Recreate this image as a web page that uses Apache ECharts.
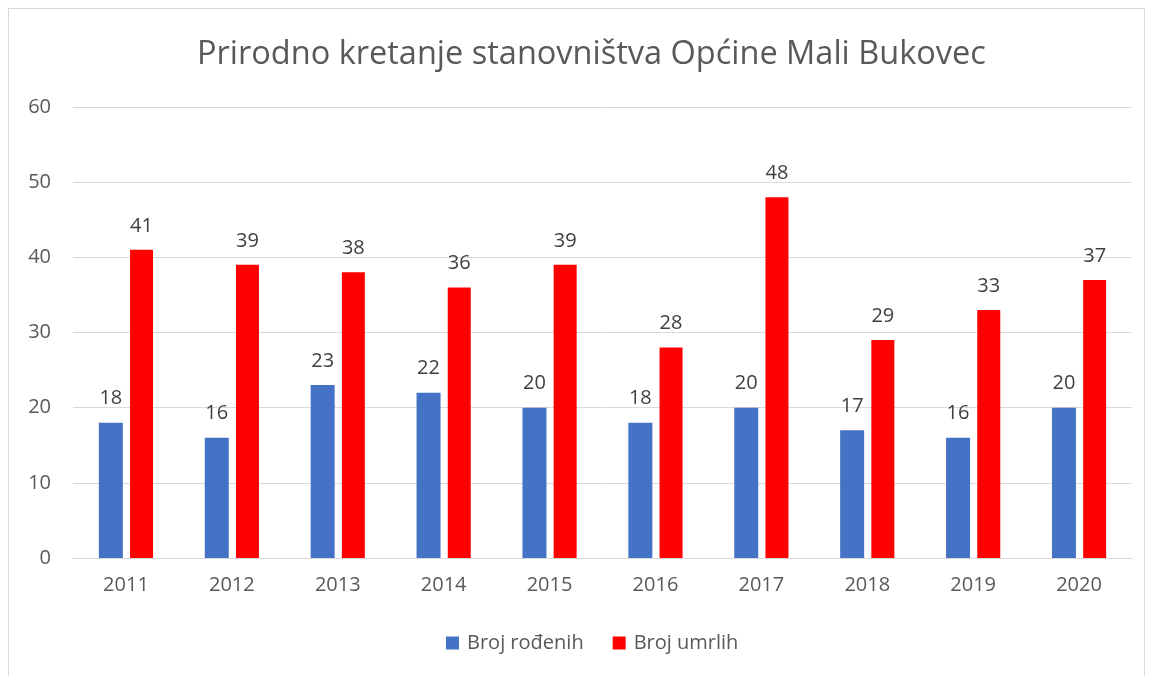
<!DOCTYPE html>
<html><head><meta charset="utf-8">
<script src="https://cdn.jsdelivr.net/npm/echarts@6/dist/echarts.min.js"></script>
<style>
html,body{margin:0;padding:0;background:#fff;}
#frame{position:absolute;left:8px;top:8px;width:1137px;height:670px;border:1px solid #d9d9d9;box-sizing:border-box;}
#chart{position:absolute;left:0;top:0;width:1154px;height:676px;}
</style></head>
<body>
<div id="frame"></div>
<div id="chart"></div>
<script>
const titleText = 'Prirodno kretanje stanovništva Općine Mali Bukovec';
const categories = ['2011','2012','2013','2014','2015','2016','2017','2018','2019','2020'];
const births = [18,16,23,22,20,18,20,17,16,20];
const deaths = [41,39,38,36,39,28,48,29,33,37];
const seriesNames = ['Broj rođenih','Broj umrlih'];

const font = 'Open Sans';
const chart = echarts.init(document.getElementById('chart'));
const lbl = {show:true, position:'top', distance:14, color:'#404040', fontSize:20, fontFamily:font};
chart.setOption({
  animation:false,
  title:{text:titleText, left:192, top:33, textStyle:{fontFamily:font, fontSize:32.5, fontWeight:'normal', color:'#595959'}},
  legend:{bottom:18, left:441, icon:'rect', itemWidth:13, itemHeight:13, itemGap:29,
    textStyle:{fontFamily:font, fontSize:20, color:'#595959', padding:[0,0,0,3]}, data:seriesNames},
  grid:{left:73, right:22, top:107, bottom:118},
  xAxis:{type:'category', data:categories,
    axisLine:{lineStyle:{color:'#d9d9d9'}}, axisTick:{show:false},
    axisLabel:{fontFamily:font, fontSize:20, color:'#595959', margin:17}},
  yAxis:{type:'value', min:0, max:60, interval:10,
    axisLine:{show:false}, axisTick:{show:false},
    splitLine:{lineStyle:{color:'#d9d9d9'}},
    axisLabel:{fontFamily:font, fontSize:20, color:'#595959', margin:22}},
  series:[
    {name:seriesNames[0], type:'bar', data:births, barWidth:24, barGap:'30%', itemStyle:{color:'#4472c4'}, label:lbl},
    {name:seriesNames[1], type:'bar', data:deaths, barWidth:23, itemStyle:{color:'#ff0000'}, label:lbl}
  ]
});
</script>
</body></html>
